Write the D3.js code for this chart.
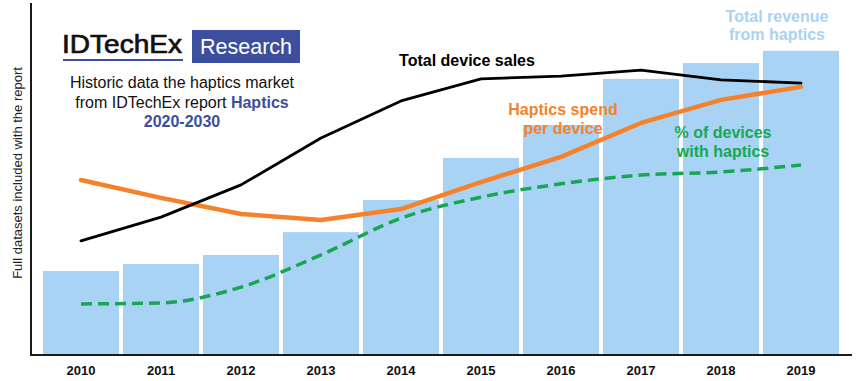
<!DOCTYPE html>
<html><head><meta charset="utf-8">
<script src="https://cdn.jsdelivr.net/npm/d3@7"></script>
<style>
html,body{margin:0;padding:0;background:#fff;}
svg{display:block;font-family:Arial,"Liberation Sans",sans-serif;}
</style></head>
<body><svg id="c" width="858" height="381"></svg>
<script>
const years = ["2010","2011","2012","2013","2014","2015","2016","2017","2018","2019"];
const revenue = [24.0, 26.0, 28.6, 35.1, 44.3, 56.3, 65.7, 78.9, 83.4, 86.9];
const deviceSales = [32.6, 39.4, 48.6, 62.0, 72.6, 78.9, 79.7, 81.4, 78.6, 77.7];
const spendPerDevice = [50.0, 44.9, 40.3, 38.6, 41.7, 49.4, 56.6, 66.3, 72.9, 76.6];
const pctWithHaptics = [14.6, 14.9, 19.4, 28.6, 39.1, 45.1, 48.9, 51.4, 52.3, 54.3];
const yLabel = "Full datasets included with the report";

const svg = d3.select("#c");
const x = d3.scaleBand().domain(years).range([41, 841]).paddingInner(0.05).paddingOuter(0.025);
const y = d3.scaleLinear().domain([0, 100]).range([355, 5]);

const BAR = "#a8d3f5", ORANGE = "#f5822a", GREEN = "#17a753", BLUE = "#3c4f9e";

// bars
svg.append("g").selectAll("rect").data(years).join("rect")
  .attr("x", d => x(d)).attr("width", x.bandwidth())
  .attr("y", (d,i) => y(revenue[i])).attr("height", (d,i) => y(0) - y(revenue[i]))
  .attr("fill", BAR);

// axes
const xAxis = d3.axisBottom(x).tickSize(0).tickPadding(11);
const gx = svg.append("g").attr("transform", `translate(0,${y(0)})`).call(xAxis);
gx.select(".domain").remove();
gx.selectAll("text").attr("font-size", 13).attr("font-weight", "bold").attr("fill", "#111")
  .attr("font-family", "Arial, 'Liberation Sans', sans-serif");
svg.append("line").attr("x1", 30).attr("x2", 852).attr("y1", y(0)).attr("y2", y(0)).attr("stroke", "#1a1a1a").attr("stroke-width", 2);
svg.append("line").attr("x1", 31).attr("x2", 31).attr("y1", 3).attr("y2", y(0)+1).attr("stroke", "#1a1a1a").attr("stroke-width", 2);

svg.append("text").attr("transform", `translate(22,173) rotate(-90)`).attr("text-anchor", "middle")
  .attr("font-size", 13).attr("fill", "#222").text(yLabel);

// lines
const cx = d => x(d) + x.bandwidth()/2;
function drawLine(vals, color, w, curve, dash){
  const line = d3.line().x((v,i) => cx(years[i])).y(v => y(v)).curve(curve);
  const p = svg.append("path").datum(vals).attr("d", line).attr("fill", "none")
    .attr("stroke", color).attr("stroke-width", w).attr("stroke-linejoin", "round");
  if (dash) p.attr("stroke-dasharray", dash); else p.attr("stroke-linecap", "round");
}
drawLine(pctWithHaptics, GREEN, 3.5, d3.curveMonotoneX, "11,6");
drawLine(spendPerDevice, ORANGE, 4.5, d3.curveLinear, null);
drawLine(deviceSales, "#000", 2.8, d3.curveLinear, null);

// logo
svg.append("text").attr("x", 62).attr("y", 53).attr("font-size", 26).attr("fill", "#111")
  .attr("stroke", "#111").attr("stroke-width", 0.7)
  .attr("textLength", 120).attr("lengthAdjust", "spacingAndGlyphs").text("IDTechEx");
svg.append("rect").attr("x", 63).attr("y", 59).attr("width", 120).attr("height", 2).attr("fill", BLUE);
svg.append("rect").attr("x", 192).attr("y", 30).attr("width", 108).attr("height", 33).attr("fill", BLUE);
svg.append("text").attr("x", 246).attr("y", 54).attr("text-anchor", "middle").attr("font-size", 21.5).attr("fill", "#fff").text("Research");

const sub = svg.append("g").attr("font-size", 16).attr("fill", "#111").attr("text-anchor", "middle");
sub.append("text").attr("x", 182).attr("y", 88).text("Historic data the haptics market");
const t2 = sub.append("text").attr("x", 182).attr("y", 108);
t2.append("tspan").text("from IDTechEx report ");
t2.append("tspan").attr("font-weight", "bold").attr("fill", BLUE).text("Haptics");
sub.append("text").attr("x", 182).attr("y", 127).attr("font-weight", "bold").attr("fill", BLUE).text("2020-2030");

// series labels
function label(lines, xc, y0, dy, color, size){
  lines.forEach((t, i) => svg.append("text").attr("x", xc).attr("y", y0 + i*dy)
    .attr("text-anchor", "middle").attr("font-weight", "bold").attr("font-size", size)
    .attr("fill", color).text(t));
}
label(["Total device sales"], 467, 66, 0, "#000", 16);
label(["Haptics spend", "per device"], 563, 115, 19, ORANGE, 16);
label(["% of devices", "with haptics"], 723, 138, 19, GREEN, 16);
label(["Total revenue", "from haptics"], 777, 22, 18, BAR, 16);
</script></body></html>
